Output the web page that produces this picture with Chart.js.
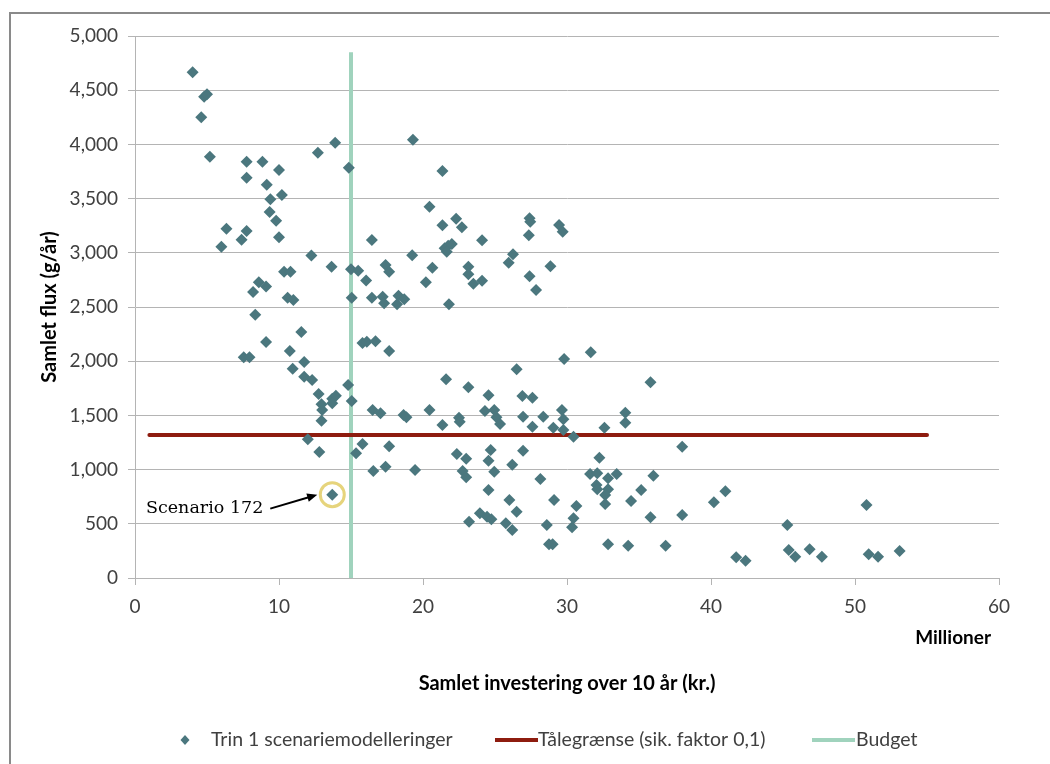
<!DOCTYPE html>
<html>
<head>
<meta charset="utf-8">
<script src="https://cdn.jsdelivr.net/npm/chart.js@4/dist/chart.umd.min.js"></script>
<style>
  html, body { margin: 0; padding: 0; background: #fff; }
  canvas { display: block; }
</style>
</head>
<body>
<canvas id="fluxChart" width="1050" height="764"></canvas>
<script>
/* ======================================================
    DATA
====================================================== */
// Trin 1 scenariemodelleringer: investering (mio. kr.) / samlet flux (g/år)
const invest = [
  4.0, 4.8, 5.0, 4.6, 5.2, 7.75, 8.85, 10.0, 7.75, 9.15, 10.2, 9.4, 9.35, 9.8, 10.0, 6.35, 7.75, 7.4, 6.0,
  12.7, 13.9, 14.85, 19.3, 20.45, 16.45, 12.25, 19.25, 13.65, 15.0, 15.5, 10.35, 10.8, 17.4, 17.65, 16.05,
  8.6, 9.1, 8.2, 20.2, 20.65, 10.6, 11.0, 15.05, 16.45, 17.2, 17.3, 18.3, 18.7, 18.2,
  8.35, 11.55, 9.1, 10.75, 7.55, 7.95, 11.75, 10.95, 11.75, 12.3, 15.8, 16.1, 16.7, 17.65, 14.8, 12.75,
  13.7, 13.95, 13.7, 12.95, 13.0, 12.95, 15.05, 16.5, 17.05, 18.65, 18.85, 20.45, 12.0, 12.8, 15.8, 15.35,
  17.65, 16.55, 17.4, 19.45, 13.7,
  21.35, 22.3, 21.35, 22.7, 27.4, 27.45, 29.45, 29.7, 27.35, 24.1, 21.75, 21.5, 22.0, 21.65, 26.25, 25.95,
  23.15, 23.15, 23.5, 24.1, 27.4, 28.85, 27.85, 21.8,
  31.65, 29.8, 26.5, 21.6, 35.8, 23.15, 24.55, 26.9, 27.6,
  21.35, 22.5, 22.55, 24.3, 24.95, 25.1, 25.35, 26.95, 27.6, 28.35, 29.05, 29.65, 29.75, 29.75, 30.45,
  32.6, 34.05, 34.05, 38.0,
  22.35, 23.0, 24.7, 24.55, 26.95, 22.75, 23.0, 24.95, 26.2, 28.15, 32.25, 31.6, 32.1, 32.85, 33.45,
  32.05, 32.1, 32.85, 32.65, 32.65, 36.0, 35.15, 34.45, 24.55, 26.0, 29.1, 30.65, 26.5, 30.45, 30.35,
  23.2, 23.95, 24.45, 24.75, 25.75, 26.2, 28.6, 28.75, 29.0, 32.85, 34.25, 35.8, 36.85, 38.0,
  40.2, 41.0, 41.75, 42.4, 45.3, 45.4, 45.85, 46.85, 47.7, 50.8, 50.95, 51.6, 53.1
];
const flux = [
  4665, 4440, 4462, 4250, 3887, 3840, 3840, 3764, 3693, 3628, 3533, 3494, 3376, 3296, 3143, 3222, 3201, 3121, 3056,
  3924, 4016, 3785, 4044, 3425, 3118, 2974, 2977, 2872, 2848, 2835, 2826, 2826, 2887, 2826, 2744,
  2728, 2688, 2638, 2728, 2862, 2586, 2565, 2586, 2586, 2595, 2534, 2604, 2571, 2525,
  2429, 2269, 2177, 2094, 2036, 2036, 1993, 1931, 1857, 1827, 2168, 2180, 2184, 2094, 1780, 1697,
  1654, 1682, 1612, 1602, 1550, 1451, 1633, 1550, 1519, 1504, 1482, 1550, 1280, 1162, 1236, 1150,
  1215, 987, 1027, 996, 769,
  3755, 3315, 3254, 3235, 3318, 3287, 3256, 3195, 3161, 3115, 3066, 3041, 3081, 3010, 2986, 2909,
  2872, 2802, 2715, 2743, 2783, 2875, 2657, 2525,
  2082, 2020, 1925, 1833, 1805, 1759, 1685, 1679, 1663,
  1411, 1479, 1442, 1541, 1550, 1482, 1421, 1488, 1396, 1488, 1387, 1550, 1464, 1365, 1304,
  1387, 1525, 1433, 1211,
  1144, 1101, 1181, 1082, 1175, 987, 929, 981, 1045, 913, 1110, 959, 966, 920, 959,
  858, 818, 818, 766, 683, 944, 812, 710, 812, 720, 720, 664, 612, 551, 468,
  520, 597, 566, 541, 505, 443, 489, 311, 311, 311, 298, 560, 298, 581,
  698, 800, 191, 160, 489, 258, 197, 265, 197, 673, 219, 197, 249
];
const scenarioIdx = 85;           // "Scenario 172"
const scenarioLabel = 'Scenario 172';

// Tålegrænse (sik. faktor 0,1)
const limitX = [1, 55];
const limitY = [1320, 1320];

// Budget
const budgetX = [15, 15];
const budgetY = [0, 4850];

const xTicks = [0, 10, 20, 30, 40, 50, 60];
const yTicks = [0, 500, 1000, 1500, 2000, 2500, 3000, 3500, 4000, 4500, 5000];

const seriesNames = ['Trin 1 scenariemodelleringer', 'Tålegrænse (sik. faktor 0,1)', 'Budget'];

/* ======================================================
    STYLE
====================================================== */
const MARKER = '#4b777e';
const LIMIT = '#8e1c0f';
const BUDGET = '#a0d3bd';
const GRID = '#b4b4b4';
const TEXT = '#404040';
const SANS = 'Lato';

const toPoints = (xs, ys) => xs.map((x, i) => ({ x: x, y: ys[i] }));

/* ======================================================
    EXTRA DRAWING (frame, units label, annotation, legend)
====================================================== */
const extras = {
    id: 'extras',
    beforeDraw(chart) {
        const ctx = chart.ctx;
        ctx.save();
        ctx.fillStyle = '#fff';
        ctx.fillRect(0, 0, chart.width, chart.height);
        ctx.restore();
    },
    afterDraw(chart) {
        const ctx = chart.ctx;
        const xs = chart.scales.x, ys = chart.scales.y;
        ctx.save();

        // outer frame
        ctx.strokeStyle = '#8a8a8a';
        ctx.lineWidth = 2;
        ctx.strokeRect(10, 13, 1100, 800);

        // display units label
        ctx.fillStyle = '#000';
        ctx.font = 'bold 19px ' + SANS;
        ctx.textAlign = 'right';
        ctx.textBaseline = 'middle';
        ctx.fillText('Millioner', 991, 638);

        // scenario 172 annotation
        const px = xs.getPixelForValue(invest[scenarioIdx]);
        const py = ys.getPixelForValue(flux[scenarioIdx]);
        ctx.strokeStyle = '#e6d47c';
        ctx.lineWidth = 3;
        ctx.beginPath();
        ctx.arc(px, py, 12, 0, Math.PI * 2);
        ctx.stroke();

        ctx.font = '17.5px "DejaVu Serif"';
        ctx.fillStyle = '#000';
        ctx.textAlign = 'right';
        ctx.textBaseline = 'alphabetic';
        ctx.fillText(scenarioLabel, px - 69, py + 18);

        const ax0 = px - 62, ay0 = py + 14;
        const ax1 = px - 15, ay1 = py;
        const ang = Math.atan2(ay1 - ay0, ax1 - ax0);
        ctx.strokeStyle = '#000';
        ctx.lineWidth = 2;
        ctx.beginPath();
        ctx.moveTo(ax0, ay0);
        ctx.lineTo(ax1 - 8 * Math.cos(ang), ay1 - 8 * Math.sin(ang));
        ctx.stroke();
        ctx.beginPath();
        ctx.moveTo(ax1, ay1);
        ctx.lineTo(ax1 - 11 * Math.cos(ang - 0.4), ay1 - 11 * Math.sin(ang - 0.4));
        ctx.lineTo(ax1 - 11 * Math.cos(ang + 0.4), ay1 - 11 * Math.sin(ang + 0.4));
        ctx.closePath();
        ctx.fill();

        // legend
        const ly = 740;
        ctx.font = '19.5px ' + SANS;
        ctx.textAlign = 'left';
        ctx.textBaseline = 'middle';

        ctx.fillStyle = MARKER;
        ctx.beginPath();
        ctx.moveTo(185, ly - 5); ctx.lineTo(189.5, ly); ctx.lineTo(185, ly + 5); ctx.lineTo(180.5, ly);
        ctx.closePath();
        ctx.fill();
        ctx.fillStyle = TEXT;
        ctx.fillText(seriesNames[0], 211, ly);

        ctx.lineWidth = 4;
        ctx.strokeStyle = LIMIT;
        ctx.beginPath(); ctx.moveTo(495, ly); ctx.lineTo(538, ly); ctx.stroke();
        ctx.fillText(seriesNames[1], 538, ly);

        ctx.strokeStyle = BUDGET;
        ctx.beginPath(); ctx.moveTo(812, ly); ctx.lineTo(855, ly); ctx.stroke();
        ctx.fillText(seriesNames[2], 856, ly);

        ctx.restore();
    }
};

/* ======================================================
    CHART
====================================================== */
function initChart() {
    const canvas = document.getElementById('fluxChart');
    new Chart(canvas.getContext('2d'), {
        type: 'scatter',
        data: {
            datasets: [{
                label: seriesNames[0],
                data: toPoints(invest, flux),
                pointStyle: 'rectRot',
                pointRadius: 6,
                pointBackgroundColor: MARKER,
                pointBorderWidth: 0
            }, {
                label: seriesNames[1],
                type: 'line',
                data: toPoints(limitX, limitY),
                borderColor: LIMIT,
                borderWidth: 4,
                pointRadius: 0,
                borderCapStyle: 'round'
            }, {
                label: seriesNames[2],
                type: 'line',
                data: toPoints(budgetX, budgetY),
                borderColor: BUDGET,
                borderWidth: 4,
                pointRadius: 0
            }]
        },
        options: {
            responsive: false,
            animation: false,
            events: [],
            layout: { padding: { left: 0, right: 51, top: 36, bottom: 0 } },
            plugins: { legend: { display: false }, tooltip: { enabled: false } },
            scales: {
                x: {
                    type: 'linear', min: 0, max: 60,
                    afterBuildTicks: s => { s.ticks = xTicks.map(v => ({ value: v })); },
                    afterFit: s => { s.height = 186; },
                    ticks: { color: TEXT, font: { family: SANS, size: 19 }, padding: 10 },
                    grid: { drawOnChartArea: false, color: GRID, tickLength: 7 },
                    border: { color: GRID, width: 1 },
                    title: {
                        display: true, text: 'Samlet investering over 10 år (kr.)', color: '#000',
                        font: { family: SANS, size: 20, weight: 'bold' }, padding: { top: 0, bottom: 68 }
                    }
                },
                y: {
                    min: 0, max: 5000,
                    afterBuildTicks: s => { s.ticks = yTicks.map(v => ({ value: v })); },
                    afterFit: s => { s.width = 135; },
                    ticks: {
                        color: TEXT, font: { family: SANS, size: 19 }, padding: 10,
                        callback: v => v.toLocaleString('en-US')
                    },
                    grid: { color: GRID, tickLength: 7 },
                    border: { color: GRID, width: 1 },
                    title: {
                        display: true, text: 'Samlet flux (g/år)', color: '#000',
                        font: { family: SANS, size: 20, weight: 'bold' }, padding: { top: 38, bottom: 0 }
                    }
                }
            }
        },
        plugins: [extras]
    });
}

window.onload = initChart;
</script>
</body>
</html>
